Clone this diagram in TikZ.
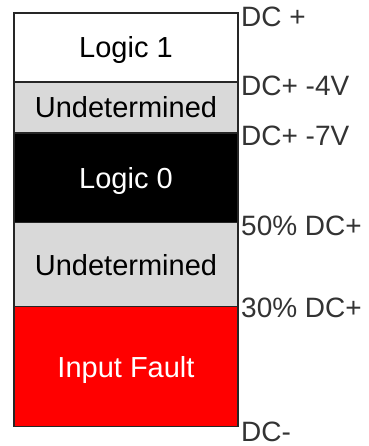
\documentclass[tikz,border=0pt]{standalone}
\usepackage{fontspec}
\setmainfont{Liberation Sans}
\usepackage{tikz}
\definecolor{undet}{HTML}{D9D9D9}
\definecolor{faultred}{HTML}{FF0000}
\definecolor{lvltext}{HTML}{333333}

\tikzset{
	band/.style={draw=black!85, line width=1.3pt, minimum width=224pt, inner sep=0pt,
		text height=20.8pt, text depth=0pt, font=\fontsize{29}{33}\selectfont},
	level/.style={anchor=base west, inner sep=0pt, text=lvltext, font=\fontsize{28}{32}\selectfont}
}

\begin{document}
\begin{tikzpicture}[x=1pt,y=-1pt]
	\useasboundingbox (0,0) rectangle (368,446);
	%bands of the input column
	\node[band, fill=white, minimum height=69pt] (logicone) at (126,47.5) {Logic 1};
	\node[band, fill=undet, minimum height=51pt] (undetup) at (126,107.5) {Undetermined};
	\node[band, fill=black, text=white, minimum height=89.7pt] (logiczero) at (126,177.85) {Logic 0};
	\node[band, fill=undet, minimum height=84pt] (undetlow) at (126,264.7) {Undetermined};
	\node[band, fill=faultred, text=white, minimum height=120pt] (fault) at (126,366.7) {Input Fault};
	%voltage levels
	\node[level] (dcplus) at (241,26.7) {DC +};
	\node[level] (dcfour) at (241,96) {DC+ -4V};
	\node[level] (dcseven) at (241,146) {DC+ -7V};
	\node[level] (dcfifty) at (241,235) {50\% DC+};
	\node[level] (dcthirty) at (241,317.3) {30\% DC+};
	\node[level] (dcminus) at (241,441) {DC-};
\end{tikzpicture}
\end{document}
